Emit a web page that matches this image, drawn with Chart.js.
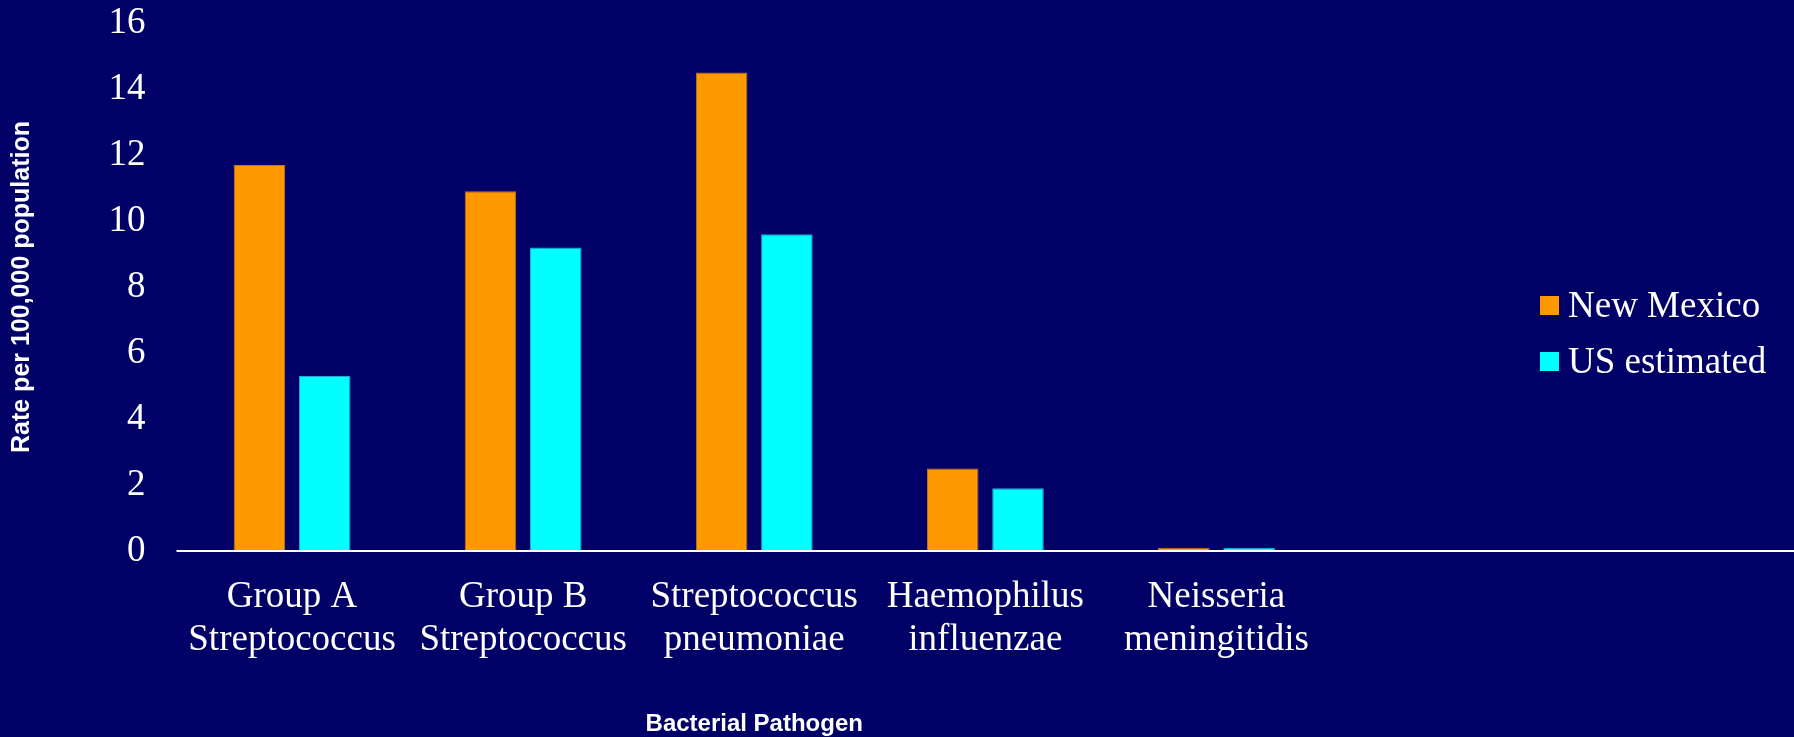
<!DOCTYPE html>
<html>
<head>
<meta charset="utf-8">
<title>Rate per 100,000 population by bacterial pathogen</title>
<script src="https://cdn.jsdelivr.net/npm/chart.js@4.4.1/dist/chart.umd.min.js"></script>
<style>
  html, body { margin: 0; padding: 0; background: #000066; }
  #wrap { position: relative; width: 1794px; height: 737px; }
  #legend {
    position: absolute; left: 1540px; top: 286px;
    font-family: "Liberation Serif", "Times New Roman", serif;
    font-size: 37px; color: #fff;
  }
  .item { position: relative; height: 56px; line-height: 37px; padding-left: 28px; white-space: nowrap; }
  .swatch { position: absolute; left: 0; top: 10px; width: 19px; height: 19px; }
</style>
</head>
<body>
<div id="wrap">
  <canvas id="pathogenChart" width="1794" height="737"></canvas>
  <div id="legend"></div>
</div>
<script>
// Data
const categories = [
  ["Group A", "Streptococcus"],
  ["Group B", "Streptococcus"],
  ["Streptococcus", "pneumoniae"],
  ["Haemophilus", "influenzae"],
  ["Neisseria", "meningitidis"]
];
const newMexico = [11.7, 10.9, 14.5, 2.5, 0.1];
const usEstimated = [5.3, 9.2, 9.6, 1.9, 0.1];
const seriesNames = ["New Mexico", "US estimated"];
const seriesColors = ["#FF9900", "#00FFFF"];
const seriesBorders = ["#C27526", "#22A8D8"];
const yMin = 0;
const yMax = 16;
const yStep = 2;

const serif = '"Liberation Serif", "Times New Roman", serif';
const sans = '"Liberation Sans", Arial, sans-serif';

// white baseline that runs past the plot area to the right edge
const zeroLine = {
  id: "zeroLine",
  afterDatasetsDraw(chart) {
    const y = chart.scales.y.getPixelForValue(0);
    const ctx = chart.ctx;
    ctx.save();
    ctx.strokeStyle = "#ffffff";
    ctx.lineWidth = 2;
    ctx.beginPath();
    ctx.moveTo(chart.chartArea.left, y);
    ctx.lineTo(chart.width, y);
    ctx.stroke();
    ctx.restore();
  }
};

function initPathogenChart() {
  const ctx = document.getElementById("pathogenChart").getContext("2d");
  const values = [newMexico, usEstimated];

  new Chart(ctx, {
    type: "bar",
    data: {
      labels: categories,
      datasets: seriesNames.map((name, i) => ({
        label: name,
        data: values[i],
        backgroundColor: seriesColors[i],
        borderColor: seriesBorders[i],
        borderWidth: 1,
        categoryPercentage: 0.565,
        barPercentage: 0.79,
      })),
    },
    options: {
      responsive: false,
      animation: false,
      devicePixelRatio: 1,
      layout: {
        padding: { top: 23, right: 462, bottom: 0, left: 0 },
      },
      plugins: {
        legend: { display: false },
        tooltip: { enabled: false },
      },
      scales: {
        x: {
          offset: true,
          grid: { display: false, drawTicks: false },
          border: { display: false },
          ticks: {
            color: "#ffffff",
            font: { family: serif, size: 37, lineHeight: 1.16 },
            padding: 25,
            maxRotation: 0,
            autoSkip: false,
          },
          title: {
            display: true,
            text: "Bacterial Pathogen",
            color: "#ffffff",
            font: { family: sans, size: 24, weight: "bold", lineHeight: 1.05 },
            padding: { top: 0, bottom: 0 },
          },
          afterFit: (scale) => { scale.height = 186; },
        },
        y: {
          min: yMin,
          max: yMax,
          grid: { display: false, drawTicks: false },
          border: { display: false },
          ticks: {
            stepSize: yStep,
            color: "#ffffff",
            font: { family: serif, size: 37 },
            padding: 31,
          },
          title: {
            display: true,
            text: "Rate per 100,000 population",
            color: "#ffffff",
            font: { family: sans, size: 25, weight: "bold" },
            padding: { top: 7, bottom: 0 },
          },
          afterFit: (scale) => {
            scale.width = 176.5;
            // tick padding should not push the plot area down
            scale.paddingTop = 0;
            scale.paddingBottom = 0;
          },
        },
      },
    },
    plugins: [zeroLine],
  });
}

function buildLegend() {
  const box = document.getElementById("legend");
  seriesNames.forEach((name, i) => {
    const item = document.createElement("div");
    item.className = "item";
    const sw = document.createElement("span");
    sw.className = "swatch";
    sw.style.background = seriesColors[i];
    item.appendChild(sw);
    item.appendChild(document.createTextNode(name));
    box.appendChild(item);
  });
}

initPathogenChart();
buildLegend();
</script>
</body>
</html>
